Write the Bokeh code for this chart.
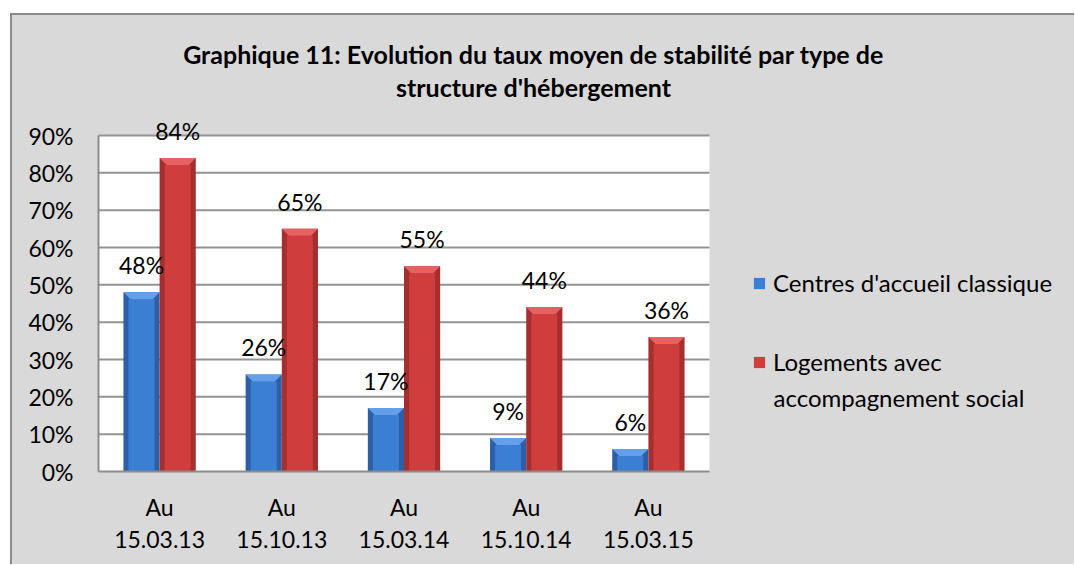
from bokeh.plotting import figure
from bokeh.models import (ColumnDataSource, LabelSet, Label, Legend, LegendItem,
                          FixedTicker, Range1d)
from bokeh.core.properties import value
from bokeh.embed import file_html
from bokeh.resources import INLINE

# ---------------- data ----------------
categories = ["Au\n15.03.13", "Au\n15.10.13", "Au\n15.03.14", "Au\n15.10.14", "Au\n15.03.15"]
centres = [48, 26, 17, 9, 6]
logements = [84, 65, 55, 44, 36]
series_names = ["Centres d'accueil classique", "Logements avec", "accompagnement social"]
y_ticks = [0, 10, 20, 30, 40, 50, 60, 70, 80, 90]
title_lines = ["Graphique 11: Evolution du taux moyen de stabilité par type de",
               "structure d'hébergement"]

# ---------------- layout constants (pixels) ----------------
N = len(categories)
Y_MAX = 90
PLOT_W, PLOT_H = 611, 336            # white plot area in px
PX_X = PLOT_W / N
PX_Y = PLOT_H / Y_MAX
FIG_W, FIG_H = 1062, 549
LEFT, BOTTOM = 86, 93
FRAME_W, FRAME_H = FIG_W - LEFT, FIG_H - BOTTOM
FONT = "Lato"
FS = "23px"
FS_LEG = "24px"

BG = "#d9d9d9"
BLUE_EDGE, BLUE_MAIN, BLUE_TOP = "#2c5fa6", "#3a7fd3", "#64a0ea"
RED_EDGE, RED_MAIN, RED_TOP = "#a52e2e", "#cf3d3d", "#e46262"

BAR_W = 0.296
HALF_OFF = 0.148
BEVEL = 7 / PX_Y
INSET = 7 / PX_X

p = figure(frame_width=FRAME_W, frame_height=FRAME_H,
           x_range=Range1d(0, FRAME_W / PX_X), y_range=Range1d(0, FRAME_H / PX_Y),
           output_backend="svg", toolbar_location=None,
           min_border_left=LEFT, min_border_top=0, min_border_right=0,
           min_border_bottom=BOTTOM)
p.styles = {"border-top": "2px solid #8a8a8a", "border-left": "2px solid #8a8a8a",
            "margin-left": "10px", "margin-top": "13px", "background-color": BG}
p.background_fill_alpha = 0
p.border_fill_alpha = 0
p.outline_line_color = None
p.xgrid.grid_line_color = None
p.ygrid.grid_line_color = None

# white plot area + gridlines
p.quad(left=[0], right=[N], bottom=[0], top=[Y_MAX], fill_color="white", line_color=None)
p.segment(x0=[0] * (len(y_ticks) - 1), x1=[N] * (len(y_ticks) - 1),
          y0=y_ticks[1:], y1=y_ticks[1:], line_color="#939393", line_width=2)

def bars(values, off, edge, main, top):
    xs = [i + 0.5 + off for i in range(N)]
    src = ColumnDataSource(dict(x=xs, top=values,
                                inner_top=[max(v - BEVEL, 0) for v in values]))
    p.vbar(x="x", top="top", bottom=0, width=BAR_W, source=src,
           fill_color=edge, line_color=None)
    r = p.vbar(x="x", top="inner_top", bottom=0, width=BAR_W * 0.72, source=src,
               fill_color=main, line_color=None)
    pxs, pys = [], []
    for x, v in zip(xs, values):
        l, rr = x - BAR_W / 2, x + BAR_W / 2
        pxs.append([l, rr, rr - INSET, l + INSET])
        pys.append([v, v, v - BEVEL, v - BEVEL])
    p.patches(pxs, pys, fill_color=top, line_color=None)
    lab_src = ColumnDataSource(dict(x=xs, y=[v + 18 / PX_Y for v in values],
                                    t=[f"{v}%" for v in values]))
    p.add_layout(LabelSet(x="x", y="y", text="t", source=lab_src,
                          text_align="center", text_baseline="alphabetic",
                          text_font=value(FONT), text_font_size=value(FS),
                          text_color="black"))
    return r

r_blue = bars(centres, -HALF_OFF, BLUE_EDGE, BLUE_MAIN, BLUE_TOP)
r_red = bars(logements, HALF_OFF, RED_EDGE, RED_MAIN, RED_TOP)

# axes
p.xaxis.ticker = FixedTicker(ticks=[i + 0.5 for i in range(N)])
p.xaxis.major_label_overrides = {i + 0.5: c for i, c in enumerate(categories)}
p.xaxis.bounds = (0, N)
p.yaxis.ticker = FixedTicker(ticks=y_ticks)
p.yaxis.major_label_overrides = {t: f"{t}%" for t in y_ticks}
p.yaxis.bounds = (0, Y_MAX)
for ax in (p.xaxis, p.yaxis):
    ax.major_tick_line_color = None
    ax.minor_tick_line_color = None
    ax.axis_line_color = "#8c8c8c"
    ax.axis_line_width = 2
    ax.major_label_text_font = FONT
    ax.major_label_text_font_size = FS
    ax.major_label_text_color = "black"
p.yaxis.major_label_standoff = 19
p.xaxis.major_label_standoff = 15
p.xaxis.major_label_text_line_height = 1.17

# page px -> data
def dx(px):
    return (px - 98) / PX_X
def dy(py):
    return (471 - py) / PX_Y

for txt, mid in zip(title_lines, [53, 86]):
    p.add_layout(Label(x=dx(533), y=dy(mid), text=txt, text_align="center",
                       text_baseline="middle", text_font=FONT,
                       text_font_style="bold", text_font_size="25px",
                       text_color="black"))

legend = Legend(items=[LegendItem(label=series_names[0], renderers=[r_blue]),
                       LegendItem(label=series_names[1], renderers=[r_red])],
                location=(654, 95), border_line_color=None,
                background_fill_alpha=0, padding=0, margin=0,
                glyph_width=14, glyph_height=14, label_standoff=7,
                label_text_font=FONT, label_text_font_size=FS_LEG,
                label_text_color="black", spacing=50)
p.add_layout(legend)
p.add_layout(Label(x=dx(773), y=dy(397), text=series_names[2], text_align="left",
                   text_baseline="middle", text_font=FONT, text_font_size=FS_LEG,
                   text_color="black"))

open("out.html", "w").write(file_html(p, INLINE))
